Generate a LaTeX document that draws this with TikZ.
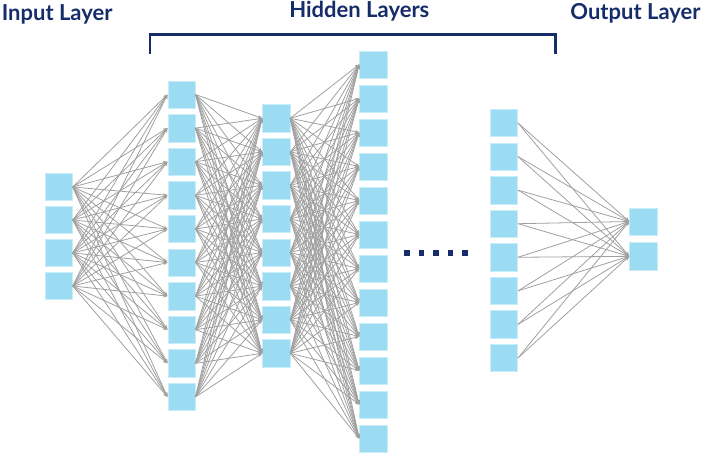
\documentclass[tikz,border=0pt]{standalone}
\usepackage{fontspec}
\setmainfont{Lato}
\usepackage{tikz}
\usetikzlibrary{arrows.meta,positioning,calc}
\definecolor{netnavy}{RGB}{22,45,106}
\definecolor{netcell}{RGB}{155,220,243}
\definecolor{netedge}{RGB}{160,160,160}

\begin{document}
\begin{tikzpicture}[x=0.75pt,y=-0.75pt,
    cell/.style={draw=netcell!55!white,line width=0.4pt,fill=netcell,minimum size=20.6pt,inner sep=0pt},
    link/.style={draw=netedge,line width=0.6pt,-{Stealth[length=3.2pt,width=2.8pt]}},
    title/.style={text=netnavy,font=\bfseries\fontsize{16.5}{19}\selectfont,anchor=base,inner sep=0pt},
    gapdot/.style={fill=netnavy,minimum size=4.3pt,inner sep=0pt}]
\useasboundingbox (0,0) rectangle (701,454);

% layer titles
\node[title] (tin) at (57.2,20) {Input Layer};
\node[title] (thid) at (359.3,17.5) {Hidden Layers};
\node[title] (tout) at (635.5,19.5) {Output Layer};

% bracket over the hidden layers
\coordinate (bl) at (150,54);
\coordinate (br) at (555.5,54);
\draw[netnavy,line width=2.2pt] (bl) |- ($(br)+(0,-19.3)$) -- (br);

% cells
\foreach \i in {1,...,4}
  \node[cell] (in\i) at (58.7,{187+33*(\i-1)}) {};
\foreach \i in {1,...,10}
  \node[cell] (ha\i) at (181.5,{94.5+33.6*(\i-1)}) {};
\foreach \i in {1,...,8}
  \node[cell] (hb\i) at (276.2,{118.3+33.57*(\i-1)}) {};
\foreach \i in {1,...,12}
  \node[cell] (hc\i) at (373.2,{64.5+34*(\i-1)}) {};
\foreach \i in {1,...,8}
  \node[cell] (hd\i) at (504,{123+33.57*(\i-1)}) {};
\foreach \i in {1,2}
  \node[cell] (out\i) at (643.2,{221.5+34.8*(\i-1)}) {};

% dots between the hidden layers
\foreach \i in {1,...,5}
  \node[gapdot] (dot\i) at ({407.2+14.4*(\i-1)},252.7) {};

% connections
\foreach \i in {1,...,4}
  \foreach \j in {1,...,10}
    \draw[link] (in\i.east) -- (ha\j.west);
\foreach \i in {1,...,10}
  \foreach \j in {1,...,8}
    \draw[link] (ha\i.east) -- (hb\j.west);
\foreach \i in {1,...,8}
  \foreach \j in {1,...,12}
    \draw[link] (hb\i.east) -- (hc\j.west);
\foreach \i in {1,...,8}
  \foreach \j in {1,2}
    \draw[link] (hd\i.east) -- (out\j.west);
\end{tikzpicture}
\end{document}
